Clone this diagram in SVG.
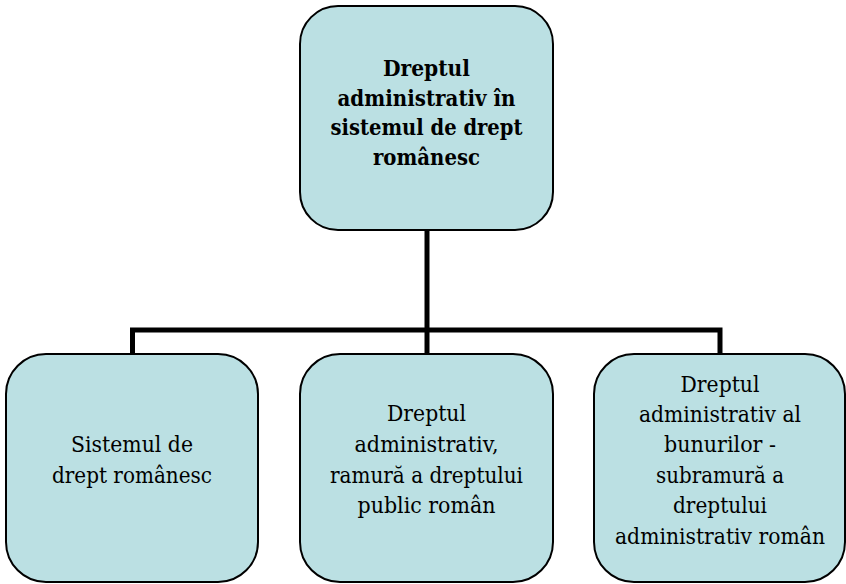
<svg xmlns="http://www.w3.org/2000/svg" width="846" height="584" viewBox="0 0 846 584">
<style>
.box{fill:#BBE0E3;stroke:#000;stroke-width:2}
.t{font-family:"DejaVu Serif",serif;font-size:23px;fill:#000;text-anchor:middle}
.b{font-weight:bold}
.c{fill:none;stroke:#000;stroke-width:5}
</style>
<rect width="846" height="584" fill="#fff"/>
<g id="connectors">
<line class="c" x1="427" y1="230" x2="427" y2="354"/>
<polyline class="c" points="132.5,354 132.5,330 720,330 720,354"/>
</g>
<g id="top">
<rect class="box" x="300" y="6" width="253" height="224" rx="38"/>
<text class="t b" x="426.5" y="76" textLength="87" lengthAdjust="spacingAndGlyphs">Dreptul</text>
<text class="t b" x="426.5" y="106" textLength="178" lengthAdjust="spacingAndGlyphs">administrativ în</text>
<text class="t b" x="426.5" y="135" textLength="192" lengthAdjust="spacingAndGlyphs">sistemul de drept</text>
<text class="t b" x="426.5" y="165" textLength="107" lengthAdjust="spacingAndGlyphs">românesc</text>
</g>
<g id="left">
<rect class="box" x="6" y="354" width="252" height="228" rx="40"/>
<text class="t" x="132" y="452" textLength="122" lengthAdjust="spacingAndGlyphs">Sistemul de</text>
<text class="t" x="132" y="483" textLength="160" lengthAdjust="spacingAndGlyphs">drept românesc</text>
</g>
<g id="middle">
<rect class="box" x="300" y="354" width="253" height="228" rx="40"/>
<text class="t" x="426.5" y="421" textLength="79" lengthAdjust="spacingAndGlyphs">Dreptul</text>
<text class="t" x="426.5" y="452" textLength="144" lengthAdjust="spacingAndGlyphs">administrativ,</text>
<text class="t" x="426.5" y="483" textLength="193" lengthAdjust="spacingAndGlyphs">ramură a dreptului</text>
<text class="t" x="426.5" y="513" textLength="138" lengthAdjust="spacingAndGlyphs">public român</text>
</g>
<g id="right">
<rect class="box" x="594" y="354" width="251" height="228" rx="40"/>
<text class="t" x="720" y="392" textLength="79" lengthAdjust="spacingAndGlyphs">Dreptul</text>
<text class="t" x="720" y="422" textLength="162" lengthAdjust="spacingAndGlyphs">administrativ al</text>
<text class="t" x="720" y="452" textLength="112" lengthAdjust="spacingAndGlyphs">bunurilor -</text>
<text class="t" x="720" y="483" textLength="128" lengthAdjust="spacingAndGlyphs">subramură a</text>
<text class="t" x="720" y="513" textLength="94" lengthAdjust="spacingAndGlyphs">dreptului</text>
<text class="t" x="720" y="544" textLength="210" lengthAdjust="spacingAndGlyphs">administrativ român</text>
</g>
</svg>
